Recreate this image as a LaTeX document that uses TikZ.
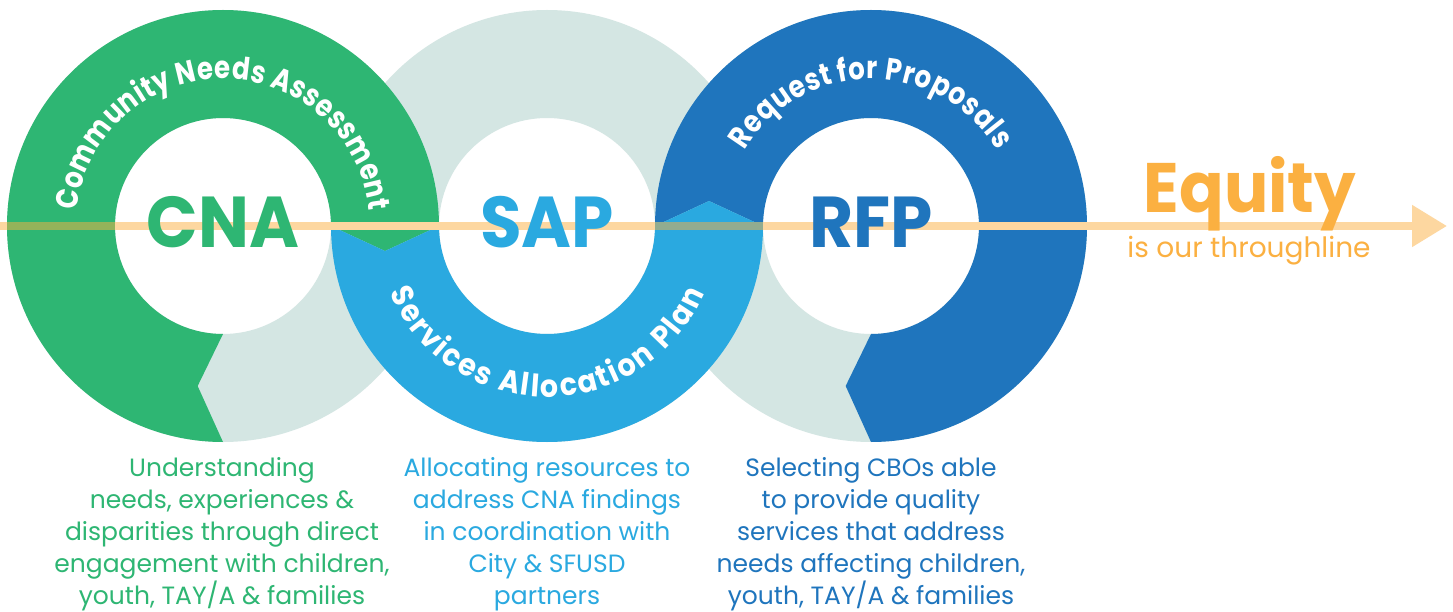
\documentclass[tikz,border=0pt]{standalone}
\usepackage{fontspec}
\setmainfont{Poppins}
\newfontfamily\arcfont[FakeStretch=0.84]{Poppins}
\newfontfamily\arcfontwide[FakeStretch=0.92]{Poppins}
\newfontfamily\titlefont[FakeStretch=0.94]{Poppins}
\usetikzlibrary{decorations.text,arrows.meta}
\definecolor{cgreen}{RGB}{46,182,115}
\definecolor{clblue}{RGB}{42,169,224}
\definecolor{cdblue}{RGB}{31,117,189}
\definecolor{cgrey}{RGB}{212,230,227}
\definecolor{corange}{RGB}{251,176,65}
\definecolor{clorange}{RGB}{253,215,160}
\definecolor{colive}{RGB}{148,179,90}
\definecolor{cgreygreen}{RGB}{146,172,144}
\tikzset{
  greyring/.style={fill=cgrey, even odd rule},
  bigabbr/.style={font=\titlefont\bfseries\fontsize{72}{72}\selectfont, anchor=base, inner sep=0pt},
  bodytext/.style={font=\fontsize{25}{32}\selectfont, align=center, anchor=north, inner sep=0pt},
  throughline/.style={draw=clorange, line width=8pt, -{Triangle[length=35pt,width=40pt]}},
}
\begin{document}
\begin{tikzpicture}[x=1pt,y=1pt]
\fill[white] (0,0) rectangle (1453,-612);
\useasboundingbox (0,0) rectangle (1453,-612);
\coordinate (A) at (223,-226);
\coordinate (B) at (547,-226);
\coordinate (C) at (871,-226);
\coordinate (tAB) at (385,-251);
\coordinate (tBC) at (709,-201);
\coordinate (tA) at ([shift={(A)}]261:162);
\coordinate (tC) at ([shift={(C)}]-99:162);
% grey rings
\fill[greyring] (A) circle[radius=216] (A) circle[radius=108];
\fill[greyring] (B) circle[radius=216] (B) circle[radius=108];
\fill[greyring] (C) circle[radius=216] (C) circle[radius=108];
% green CNA segment
\fill[cgreen] ([shift={(A)}]0:216) -- (tAB) -- ([shift={(A)}]0:108)
  arc[start angle=0,end angle=270,radius=108] -- (tA) -- ([shift={(A)}]270:216)
  arc[start angle=270,end angle=0,radius=216] -- cycle;
% dark blue RFP segment
\fill[cdblue] ([shift={(C)}]180:216) -- (tBC) -- ([shift={(C)}]180:108)
  arc[start angle=180,end angle=-90,radius=108] -- (tC) -- ([shift={(C)}]-90:216)
  arc[start angle=-90,end angle=180,radius=216] -- cycle;
% light blue SAP segment
\fill[clblue] ([shift={(B)}]180:216) arc[start angle=180,end angle=360,radius=216]
  -- (tBC) -- ([shift={(B)}]0:108) arc[start angle=360,end angle=180,radius=108]
  -- (tAB) -- cycle;
% throughline
\coordinate (L0) at (0,-226);
\coordinate (L1) at (1447,-226);
\draw[throughline] (L0) -- (L1);
\coordinate (o1) at (7,-226);
\coordinate (o2) at (115,-226);
\coordinate (g1) at (655,-226);
\coordinate (g2) at (763,-226);
\draw[draw=colive, line width=8pt] (o1) -- (o2);
\draw[draw=cgreygreen, line width=8pt] (g1) -- (g2);
% arc labels
\path[decorate, decoration={text along path, text align={fit to path}, text color=white,
  text={|\arcfont\bfseries\fontsize{31}{31}\selectfont|Community Needs Assessment}}]
  ([shift={(A)}]174:147) arc[start angle=174,end angle=6,radius=147];
\path[decorate, decoration={text along path, text align={fit to path}, text color=white,
  text={|\arcfont\bfseries\fontsize{31}{31}\selectfont|Request for Proposals}}]
  ([shift={(C)}]149:147) arc[start angle=149,end angle=31,radius=147];
\path[decorate, decoration={text along path, text align={fit to path}, text color=white,
  text={|\arcfontwide\bfseries\fontsize{31}{31}\selectfont|Services Allocation Plan}}]
  ([shift={(B)}]203:171) arc[start angle=203,end angle=337,radius=171];
% big abbreviations
\node[bigabbr, text=cgreen] (cna) at (223,-248) {CNA};
\node[bigabbr, text=clblue] (sap) at (547,-248) {SAP};
\node[bigabbr, text=cdblue] (rfp) at (871,-248) {RFP};
% equity
\node[font=\titlefont\bfseries\fontsize{70}{70}\selectfont, text=corange, anchor=base, inner sep=0pt] (eq) at (1250,-213) {Equity};
\node[font=\fontsize{28}{28}\selectfont, text=corange, anchor=base, inner sep=0pt] (eqsub) at (1249,-258) {is our throughline};
% body texts
\node[bodytext, text=cgreen] (cnatext) at (222,-457) {Understanding\\needs, experiences \&\\disparities through direct\\engagement with children,\\youth, TAY/A \& families};
\node[bodytext, text=clblue] (saptext) at (547,-457) {Allocating resources to\\address CNA findings\\in coordination with\\City \& SFUSD\\partners};
\node[bodytext, text=cdblue] (rfptext) at (871,-457) {Selecting CBOs able\\to provide quality\\services that address\\needs affecting children,\\youth, TAY/A \& families};
\end{tikzpicture}
\end{document}
